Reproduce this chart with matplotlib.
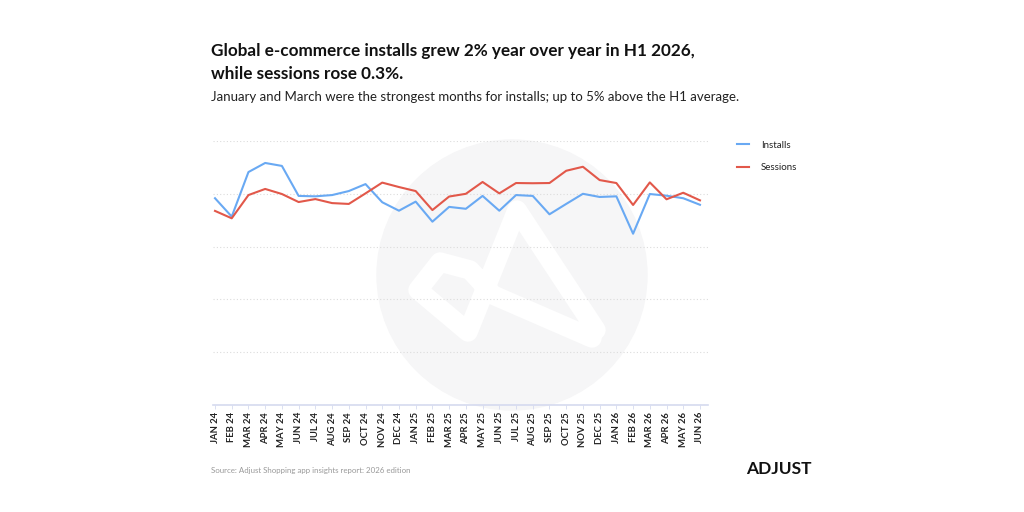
import matplotlib
matplotlib.use("Agg")
import matplotlib.pyplot as plt
from matplotlib.patches import Circle
import numpy as np

# monthly index values (100 ~ average level)
months = ["JAN 24", "FEB 24", "MAR 24", "APR 24", "MAY 24", "JUN 24", "JUL 24", "AUG 24",
          "SEP 24", "OCT 24", "NOV 24", "DEC 24", "JAN 25", "FEB 25", "MAR 25", "APR 25",
          "MAY 25", "JUN 25", "JUL 25", "AUG 25", "SEP 25", "OCT 25", "NOV 25", "DEC 25",
          "JAN 26", "FEB 26", "MAR 26", "APR 26", "MAY 26", "JUN 26"]
installs = [97.9, 89.2, 110.3, 114.6, 113.2, 99.0, 98.8, 99.4, 101.3, 104.6, 96.0, 92.0,
            96.3, 86.8, 93.8, 92.9, 99.0, 92.0, 99.4, 99.0, 90.3, 95.2, 100.0, 98.5,
            98.8, 81.1, 99.9, 99.1, 97.9, 94.8]
sessions = [91.9, 88.4, 99.4, 102.3, 99.9, 96.1, 97.5, 95.6, 95.2, 100.2, 105.3, 103.2,
            101.3, 92.3, 98.7, 100.0, 105.6, 100.2, 105.1, 105.0, 105.1, 110.9, 112.8, 106.5,
            105.1, 94.7, 105.4, 97.4, 100.5, 96.9]

W, H = 1024, 512
plt.rcParams['font.family'] = ['Lato', 'DejaVu Sans']

fig = plt.figure(figsize=(W / 100, H / 100), dpi=100)
fig.patch.set_facecolor("white")

# background watermark (pixel coords)
bg = fig.add_axes([0, 0, 1, 1], zorder=0)
bg.set_xlim(0, W)
bg.set_ylim(H, 0)
bg.axis("off")
bg.add_patch(Circle((512, 275), 135, color="#f6f6f7", zorder=0))
path_x = [596, 517, 468, 418, 440, 470, 493, 592]
path_y = [330, 210, 332, 290, 262, 270, 295, 338]
bg.plot(path_x, path_y, color="white", lw=14, solid_joinstyle="round",
        solid_capstyle="round", zorder=1)

# main chart
def px(x0, y0, x1, y1):
    return [x0 / W, 1 - y1 / H, (x1 - x0) / W, (y1 - y0) / H]

ax = fig.add_axes(px(213, 141, 708, 405), zorder=1)
ax.patch.set_alpha(0)
x = np.arange(len(months))
ax.plot(x, installs, color="#69a9f3", lw=1.5, label="Installs")
ax.plot(x, sessions, color="#e2584a", lw=1.5, label="Sessions")
ax.set_xlim(-0.12, len(months) - 1 + 0.48)
ax.set_ylim(0, 125)
ax.set_yticks([0, 25, 50, 75, 100, 125])
ax.yaxis.grid(True, color="#dcdcdc", linestyle=(0, (1, 2)), lw=0.8)
ax.set_axisbelow(True)
ax.tick_params(axis="y", length=0, labelleft=False)
for s in ["top", "right", "left"]:
    ax.spines[s].set_visible(False)
ax.spines["bottom"].set_color("#d5daef")
ax.spines["bottom"].set_linewidth(1.2)
ax.set_xticks(x)
ax.set_xticklabels(months, rotation=90, fontsize=6.8, fontweight="bold", color="#222222")
ax.tick_params(axis="x", length=3, width=0.6, color="#d5daef", pad=2)

# legend
leg = ax.legend(loc="upper left", bbox_to_anchor=(1.04, 1.035), frameon=False,
                fontsize=7, handlelength=1.3, handletextpad=1.2, labelspacing=1.4)
for t in leg.get_texts():
    t.set_color("#222222")

# texts
fig.text(211 / W, 1 - 51 / H, "Global e-commerce installs grew 2% year over year in H1 2026,",
         fontsize=12.3, fontweight="bold", color="#111111", va="center")
fig.text(211 / W, 1 - 74 / H, "while sessions rose 0.3%.",
         fontsize=12.3, fontweight="bold", color="#111111", va="center")
fig.text(211 / W, 1 - 97 / H,
         "January and March were the strongest months for installs; up to 5% above the H1 average.",
         fontsize=9.5, color="#222222", va="center")
fig.text(211 / W, 1 - 471 / H, "Source: Adjust Shopping app insights report: 2026 edition",
         fontsize=5.7, color="#999999", va="center")
fig.text(812 / W, 1 - 469 / H, "ADJUST", fontsize=12.5, fontweight="bold",
         color="#111111", va="center", ha="right")

fig.savefig("out.png", dpi=100, facecolor="white")
